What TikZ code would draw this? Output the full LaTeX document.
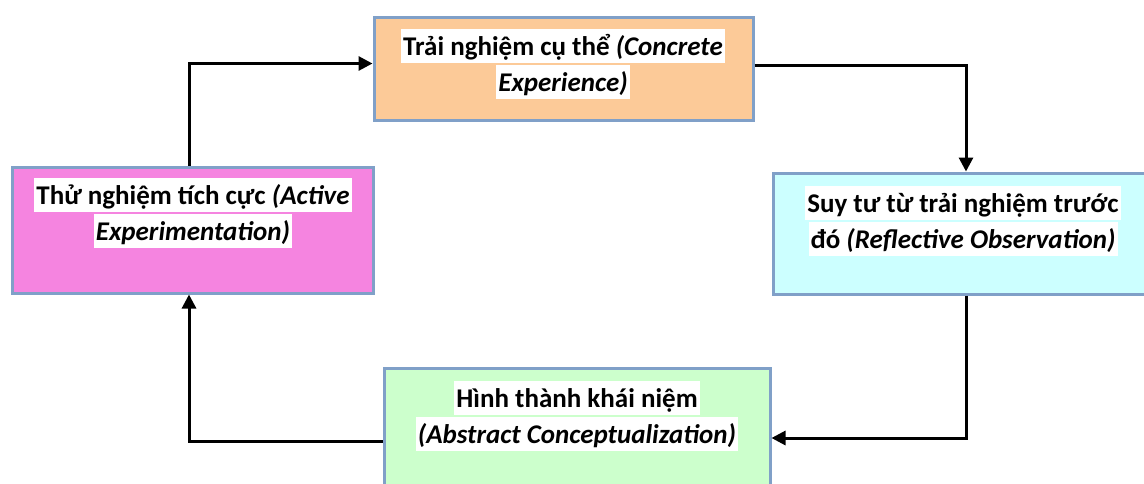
\documentclass[tikz,border=0pt]{standalone}
\usepackage{fontspec}
\setmainfont{Carlito}
\usetikzlibrary{arrows.meta}
\definecolor{peach}{RGB}{252,202,152}
\definecolor{pinkbox}{RGB}{245,132,224}
\definecolor{cyanbox}{RGB}{204,255,255}
\definecolor{greenbox}{RGB}{204,255,204}
\definecolor{bordc}{RGB}{128,160,200}
\newcommand{\hlline}[1]{{\setlength{\fboxsep}{0pt}\colorbox{white}{\rule[-8pt]{0pt}{34pt}\hspace{2pt}#1\hspace{2pt}}}}
\begin{document}
\begin{tikzpicture}[x=1pt,y=-1pt,
  box/.style={draw=bordc,line width=3pt,rectangle,inner sep=0pt},
  lbl/.style={align=center,font=\fontsize{27}{36}\selectfont\bfseries,inner sep=0pt},
  arr/.style={line width=3pt,-{Triangle[length=14pt,width=14pt]}}]
\useasboundingbox (0,0) rectangle (1144,483);
\node[box,fill=peach,minimum width=379pt,minimum height=103pt] (tbox) at (563.5,68.5) {};
\node[box,fill=pinkbox,minimum width=361pt,minimum height=126pt] (lbox) at (193,230) {};
\node[box,fill=cyanbox,minimum width=386pt,minimum height=121pt] (rbox) at (966,233.5) {};
\node[box,fill=greenbox,minimum width=386pt,minimum height=140pt] (bbox) at (577,438) {};
\node[lbl] (tlbl) at (563,64) {\hlline{Trải nghiệm cụ thể \textit{(Concrete}}\\\hlline{\textit{Experience)}}};
\node[lbl] (llbl) at (193,213) {\hlline{Thử nghiệm tích cực \textit{(Active}}\\\hlline{\textit{Experimentation)}}};
\node[lbl] (rlbl) at (963,221) {\hlline{Suy tư từ trải nghiệm trước}\\\hlline{đó \textit{(Reflective Observation)}}};
\node[lbl] (blbl) at (577,416) {\hlline{Hình thành khái niệm}\\\hlline{\textit{(Abstract Conceptualization)}}};
\draw[arr] ([xshift=-4pt]lbox.north) |- ([yshift=5pt]tbox.west);
\draw[arr] ([yshift=3pt]tbox.east) -| (rbox.north);
\draw[arr] (rbox.south) |- (bbox.east);
\draw[arr] ([yshift=-3pt]bbox.west) -| ([xshift=-4pt]lbox.south);
\end{tikzpicture}
\end{document}
